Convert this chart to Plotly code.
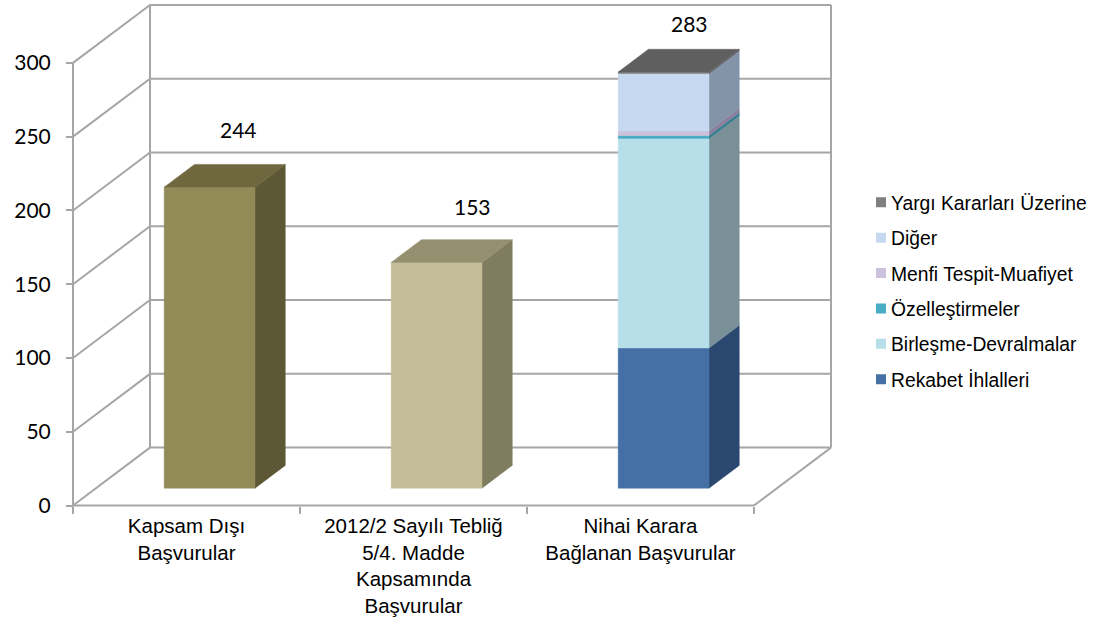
import plotly.graph_objects as go

# ---- data ----
categories = ["Kapsam Dışı<br>Başvurular",
              "2012/2 Sayılı Tebliğ<br>5/4. Madde<br>Kapsamında<br>Başvurular",
              "Nihai Karara<br>Bağlanan Başvurular"]
y_ticks = [0, 50, 100, 150, 200, 250, 300]
kapsam_disi = [204]
teblig = [153]
series_names = ["Rekabet İhlalleri", "Birleşme-Devralmalar", "Özelleştirmeler",
                "Menfi Tespit-Muafiyet", "Diğer", "Yargı Kararları Üzerine"]
series_values = [95, 142, 2, 3, 39, 1]
value_labels = ["244", "153", "283"]

# ---- styling ----
W, H = 1115, 617
X0, Y0 = 73, 510.5         # pixel of the front-left axis origin
PX_CAT, PX_VAL = 227.0, 1.49
DEPTH_X = 77 / PX_CAT      # oblique projection of the full chart depth
DEPTH_Y = 58.5 / PX_VAL
GRID = "#a6a6a6"
BAR_W = 0.4
D0, D1 = 0.30, 0.693

front_colors = ["#4470a5", "#b7dfe9", "#4bacc6", "#ccc1da", "#c6d9f0", "#7f7f7f"]
side_colors = ["#2b4870", "#7a9098", "#2f7f8f", "#8a7f9c", "#8494a8", "#5f5f5f"]
legend_colors = ["#4470a5", "#b7dfe9", "#4bacc6", "#ccc1da", "#c6d9f0", "#7f7f7f"]


def proj(x, v, d):
    return x + d * DEPTH_X, v + d * DEPTH_Y


fig = go.Figure()


def line(points, color=GRID, width=2):
    xs, ys = zip(*[proj(*p) for p in points])
    fig.add_trace(go.Scatter(x=xs, y=ys, mode="lines", showlegend=False, hoverinfo="skip",
                             line=dict(color=color, width=width)))


def face(points, color):
    xs, ys = zip(*[proj(*p) for p in points])
    fig.add_trace(go.Scatter(x=list(xs) + [xs[0]], y=list(ys) + [ys[0]], mode="lines", fill="toself",
                             fillcolor=color, line=dict(color=color, width=0.5),
                             showlegend=False, hoverinfo="skip"))


def box(cat, lo, hi, front, side, top=None):
    xl, xr = cat + 0.5 - BAR_W / 2, cat + 0.5 + BAR_W / 2
    face([(xr, lo, D0), (xr, lo, D1), (xr, hi, D1), (xr, hi, D0)], side)
    face([(xl, lo, D0), (xr, lo, D0), (xr, hi, D0), (xl, hi, D0)], front)
    if top:
        face([(xl, hi, D0), (xr, hi, D0), (xr, hi, D1), (xl, hi, D1)], top)


n = len(categories)
# walls and floor
for v in y_ticks:
    line([(0, v, 0), (0, v, 1), (n, v, 1)])
line([(0, 0, 1), (0, y_ticks[-1], 1)])
line([(n, 0, 1), (n, y_ticks[-1], 1)])
line([(n, 0, 0), (n, 0, 1)])
line([(0, 0, 0), (0, y_ticks[-1], 0)])
line([(0, 0, 0), (n, 0, 0)])

# bars
box(0, 0, kapsam_disi[0], "#928a57", "#5c5735", "#6f683f")
box(1, 0, teblig[0], "#c4bd97", "#7f7c60", "#94906f")
lo = 0
for i, val in enumerate(series_values):
    top_col = "#5f5f5f" if i == len(series_values) - 1 else None
    box(2, lo, lo + val, front_colors[i], side_colors[i], top_col)
    lo += val

# legend entries (top to bottom)
for name, col in reversed(list(zip(series_names, legend_colors))):
    fig.add_trace(go.Scatter(x=[None], y=[None], mode="markers", name=name, legendgroup=name,
                             marker=dict(symbol="square", size=10, color=col)))

label_x = [0.727, 1.758, 2.718]
label_y = [255, 203, 327]
for lx, ly, t in zip(label_x, label_y, value_labels):
    fig.add_annotation(x=lx, y=ly, text=t, showarrow=False, xanchor="center", yanchor="middle",
                       font=dict(family="Lato", size=21, color="#000000"))

fig.update_layout(
    width=W, height=H, margin=dict(l=0, r=0, t=0, b=0),
    paper_bgcolor="white", plot_bgcolor="white",
    legend=dict(x=851 / W, y=1 - 185 / H, xanchor="left", yanchor="top",
                traceorder="grouped", tracegroupgap=7.3, bgcolor="rgba(0,0,0,0)",
                font=dict(family="Liberation Sans", size=19.3, color="#000000")),
    xaxis=dict(range=[-X0 / PX_CAT, (W - X0) / PX_CAT], anchor="free", position=(H - Y0) / H,
               showgrid=False, zeroline=False, showline=False,
               tickmode="array", tickvals=[i + 0.5 for i in range(n)], ticktext=categories,
               ticks="", ticklabelstandoff=6,
               tickfont=dict(family="Liberation Sans", size=20.5, color="#000000"),
               minor=dict(tickmode="array", tickvals=list(range(n + 1)), ticks="outside",
                          ticklen=7, tickwidth=2, tickcolor=GRID, showgrid=False)),
    yaxis=dict(range=[(Y0 - H) / PX_VAL, Y0 / PX_VAL], anchor="free", position=X0 / W,
               showgrid=False, zeroline=False, showline=False,
               tickmode="array", tickvals=y_ticks, ticks="outside", ticklen=7, tickwidth=2,
               ticklabelstandoff=11,
               tickcolor=GRID, tickfont=dict(family="Lato", size=21, color="#000000")),
)

# page without its default margin; legend swatches sit close to their text
PAGE_JS = ("document.body.style.margin='0';"
           "document.querySelectorAll('.legendsymbols').forEach("
           "function(g){g.setAttribute('transform','translate(10,0)');});")
fig.write_html("out.html", post_script=PAGE_JS, config={"displayModeBar": False})
